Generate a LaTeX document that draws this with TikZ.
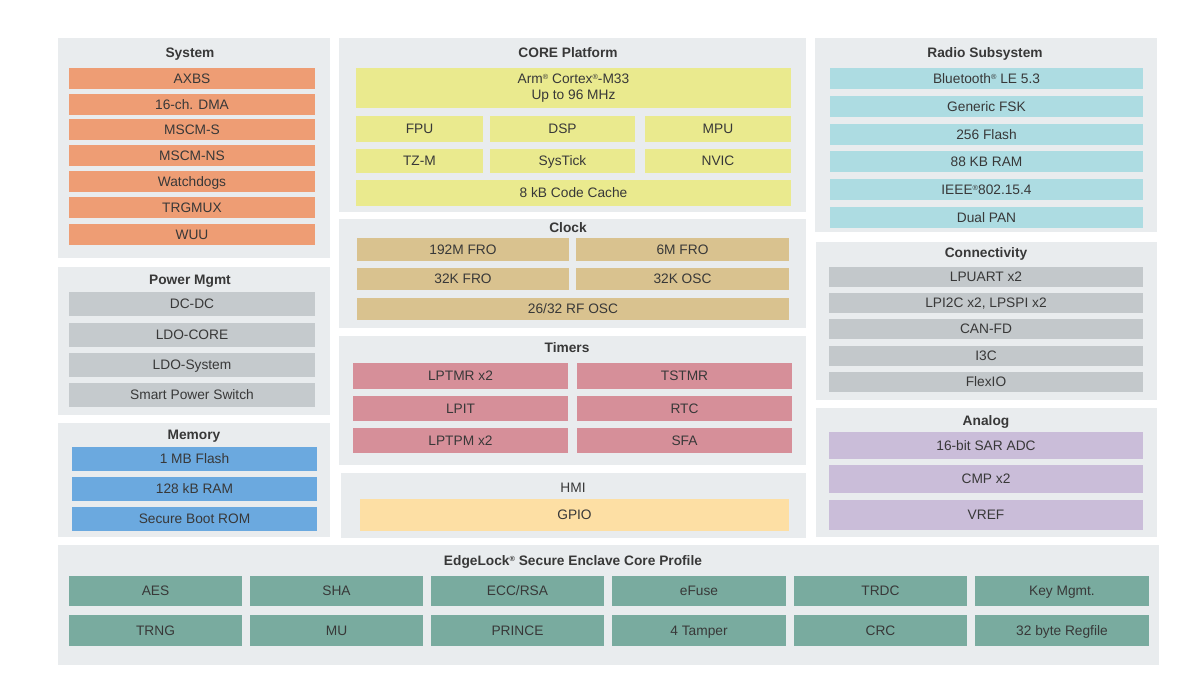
\documentclass[tikz,border=0pt]{standalone}
\usepackage{fontspec}
\setmainfont{Liberation Sans}
\usepackage{tikz}
\usetikzlibrary{positioning}

\definecolor{panelc}{HTML}{E9ECEE}
\definecolor{txtc}{HTML}{383838}
\definecolor{sysc}{HTML}{EE9D74}
\definecolor{corec}{HTML}{EAEA8E}
\definecolor{radioc}{HTML}{ADDCE2}
\definecolor{pwrc}{HTML}{C5CACD}
\definecolor{memc}{HTML}{6BA9DF}
\definecolor{clkc}{HTML}{D9C28F}
\definecolor{tmrc}{HTML}{D68F99}
\definecolor{hmic}{HTML}{FDDFA4}
\definecolor{conc}{HTML}{C3C8CB}
\definecolor{anac}{HTML}{CABDD9}
\definecolor{secc}{HTML}{79AB9F}

% box from its corners, in pixels of the picture
\newcommand{\chipblk}[7]{%
  \node[#6, minimum width={(#4-#2)*0.75pt}, minimum height={(#5-#3)*0.75pt}]
    (#1) at ({(#2+#4)/2},{(#3+#5)/2}) {#7};}
\newcommand{\reg}{\raisebox{0.55ex}{\fontsize{5.5}{5.5}\selectfont\textregistered}}

\begin{document}
\begin{tikzpicture}[
    x=0.75pt, y=-0.75pt,
    every node/.style={inner sep=0pt, outer sep=0pt, text=txtc,
      text height=7.4pt, text depth=0pt,
      font=\fontsize{10.3}{12.4}\selectfont},
    panel/.style={rectangle, fill=panelc},
    title/.style={font=\fontsize{10.3}{12.4}\selectfont\bfseries},
    sysbox/.style={rectangle, fill=sysc},
    corebox/.style={rectangle, fill=corec, align=center},
    radiobox/.style={rectangle, fill=radioc},
    pwrbox/.style={rectangle, fill=pwrc},
    membox/.style={rectangle, fill=memc},
    clkbox/.style={rectangle, fill=clkc},
    tmrbox/.style={rectangle, fill=tmrc},
    hmibox/.style={rectangle, fill=hmic},
    conbox/.style={rectangle, fill=conc},
    anabox/.style={rectangle, fill=anac},
    secbox/.style={rectangle, fill=secc}
  ]
  \fill[white] (0,0) rectangle (1200,675);
  \useasboundingbox (0,0) rectangle (1200,675);

  % left column
  \chipblk{system}{58}{38}{330}{258}{panel}{}
  \node[title] (systemtitle) at (190,53) {System};
  \foreach \t/\lbl [count=\i] in {68/AXBS, 94/16-ch. DMA, 119/MSCM-S,
      145/MSCM-NS, 171/Watchdogs, 197/TRGMUX, 224/WUU}
    {\chipblk{sys\i}{69}{\t}{315}{\t+21}{sysbox}{\lbl}}

  \chipblk{power}{58}{267}{330}{415}{panel}{}
  \node[title] (powertitle) at (190,280) {Power Mgmt};
  \foreach \t/\lbl [count=\i] in {292/DC-DC, 323/LDO-CORE, 353/LDO-System,
      383/Smart Power Switch}
    {\chipblk{pwr\i}{69}{\t}{315}{\t+24}{pwrbox}{\lbl}}

  \chipblk{memory}{58}{423}{330}{537}{panel}{}
  \node[title] (memorytitle) at (194,435) {Memory};
  \foreach \t/\lbl [count=\i] in {447/1 MB Flash, 477/128 kB RAM,
      507/Secure Boot ROM}
    {\chipblk{mem\i}{72}{\t}{317}{\t+24}{membox}{\lbl}}

  % middle column
  \chipblk{core}{339}{38}{806}{212}{panel}{}
  \node[title] (coretitle) at (568,53) {CORE Platform};
  \chipblk{arm}{356}{68}{791}{108}{corebox, text height={}, text depth={}}%
    {Arm\reg{} Cortex\reg-M33\\Up to 96 MHz}
  \chipblk{fpu}{356}{116}{483}{142}{corebox}{FPU}
  \chipblk{dsp}{490}{116}{635}{142}{corebox}{DSP}
  \chipblk{mpu}{645}{116}{791}{142}{corebox}{MPU}
  \chipblk{tzm}{356}{149}{483}{173}{corebox}{TZ-M}
  \chipblk{systick}{490}{149}{635}{173}{corebox}{SysTick}
  \chipblk{nvic}{645}{149}{791}{173}{corebox}{NVIC}
  \chipblk{cache}{356}{180}{791}{206}{corebox}{8 kB Code Cache}

  \chipblk{clock}{339}{219}{806}{328}{panel}{}
  \node[title] (clocktitle) at (568,228) {Clock};
  \chipblk{fro192}{357}{238}{569}{261}{clkbox}{192M FRO}
  \chipblk{fro6}{576}{238}{789}{261}{clkbox}{6M FRO}
  \chipblk{fro32}{357}{268}{569}{290}{clkbox}{32K FRO}
  \chipblk{osc32}{576}{268}{789}{290}{clkbox}{32K OSC}
  \chipblk{rfosc}{357}{298}{789}{320}{clkbox}{26/32 RF OSC}

  \chipblk{timers}{339}{336}{806}{465}{panel}{}
  \node[title] (timerstitle) at (567,348) {Timers};
  \chipblk{lptmr}{353}{363}{568}{389}{tmrbox}{LPTMR x2}
  \chipblk{tstmr}{577}{363}{792}{389}{tmrbox}{TSTMR}
  \chipblk{lpit}{353}{396}{568}{421}{tmrbox}{LPIT}
  \chipblk{rtc}{577}{396}{792}{421}{tmrbox}{RTC}
  \chipblk{lptpm}{353}{428}{568}{453}{tmrbox}{LPTPM x2}
  \chipblk{sfa}{577}{428}{792}{453}{tmrbox}{SFA}

  \chipblk{hmi}{341}{473}{806}{538}{panel}{}
  \node (hmititle) at (573,488) {HMI};
  \chipblk{gpio}{360}{499}{789}{531}{hmibox}{GPIO}

  % right column
  \chipblk{radio}{815}{38}{1157}{232}{panel}{}
  \node[title] (radiotitle) at (985,53) {Radio Subsystem};
  \foreach \t/\lbl [count=\i] in {68/Bluetooth\reg{} LE 5.3, 96/Generic FSK,
      124/256 Flash, 151/88 KB RAM, 179/IEEE\reg{}802.15.4, 207/Dual PAN}
    {\chipblk{rad\i}{830}{\t}{1143}{\t+21}{radiobox}{\lbl}}

  \chipblk{conn}{816}{242}{1157}{400}{panel}{}
  \node[title] (conntitle) at (986,253) {Connectivity};
  \foreach \t/\lbl [count=\i] in {267/LPUART x2, 293/{LPI2C x2, LPSPI x2},
      319/CAN-FD, 346/I3C, 372/FlexIO}
    {\chipblk{con\i}{829}{\t}{1143}{\t+20}{conbox}{\lbl}}

  \chipblk{analog}{816}{408}{1157}{537}{panel}{}
  \node[title] (analogtitle) at (986,421) {Analog};
  \chipblk{adc}{829}{432}{1143}{459}{anabox}{16-bit SAR ADC}
  \chipblk{cmp}{829}{465}{1143}{493}{anabox}{CMP x2}
  \chipblk{vref}{829}{500}{1143}{530}{anabox}{VREF}

  % bottom row
  \chipblk{edgelock}{58}{545}{1159}{665}{panel}{}
  \node[title] (edgelocktitle) at (573,561) {EdgeLock\reg{} Secure Enclave Core Profile};
  \foreach \l/\r/\up/\down [count=\i] in {69/242/AES/TRNG, 250/423/SHA/MU,
      431/604/ECC\slash RSA/PRINCE, 612/786/eFuse/4 Tamper, 794/967/TRDC/CRC,
      975/1149/Key Mgmt./32 byte Regfile}
    {\chipblk{secup\i}{\l}{576}{\r}{606}{secbox}{\up}
     \chipblk{secdn\i}{\l}{615}{\r}{646}{secbox}{\down}}
\end{tikzpicture}
\end{document}
